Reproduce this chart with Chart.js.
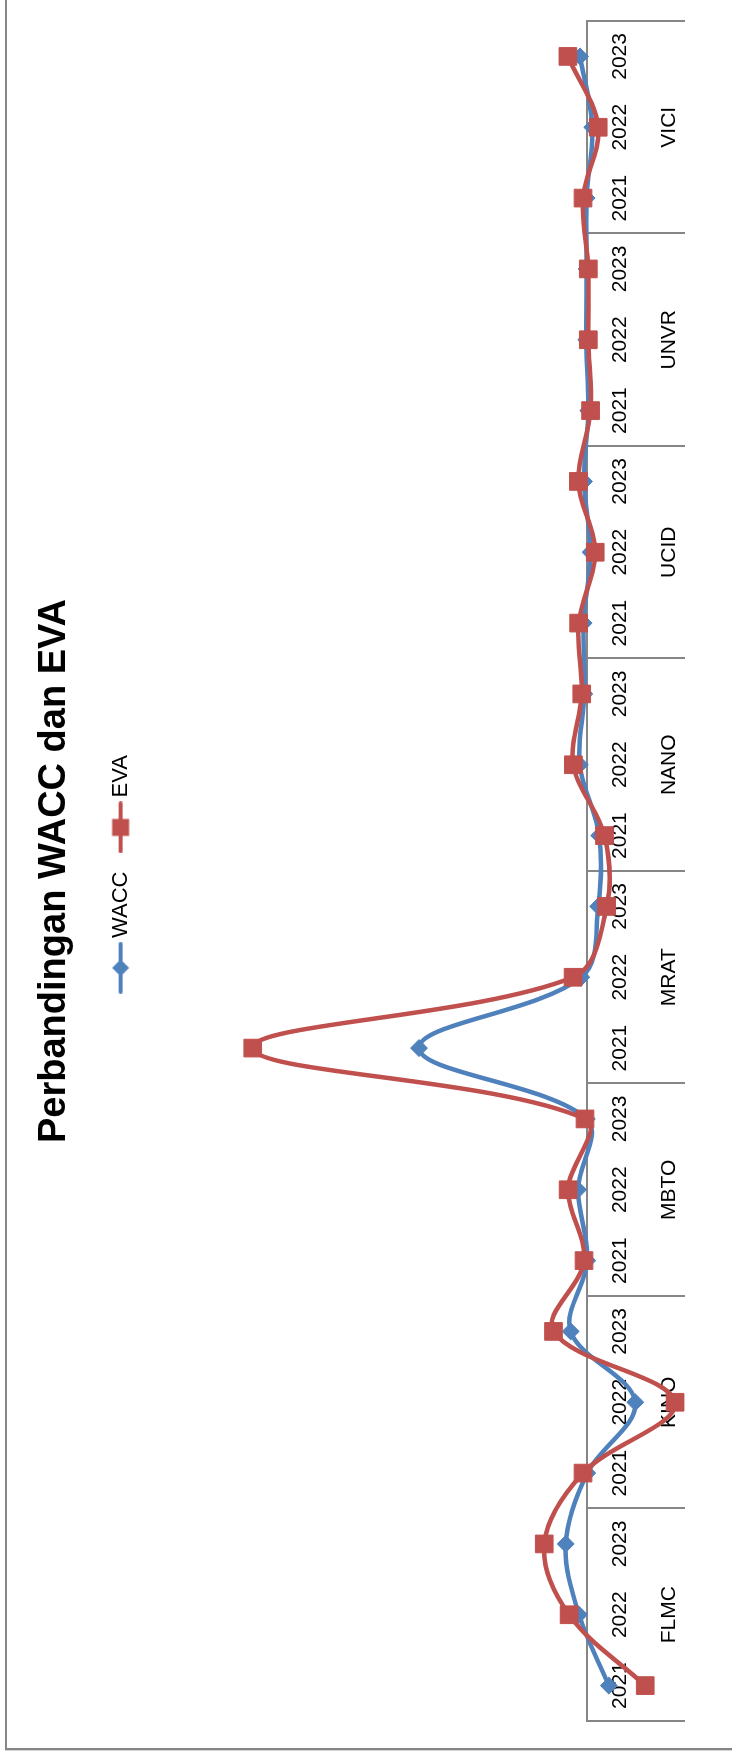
<!DOCTYPE html>
<html>
<head>
<meta charset="utf-8">
<title>Perbandingan WACC dan EVA</title>
<script src="https://cdn.jsdelivr.net/npm/chart.js@4.4.1/dist/chart.umd.min.js"></script>
<style>
  html, body { margin: 0; padding: 0; background: #fff; width: 732px; height: 1759px; overflow: hidden; }
  #frame {
    position: absolute; left: 5px; top: -10px; width: 800px; height: 1760px;
    box-sizing: border-box; border: 2px solid #868686; box-shadow: 0 1px 0 #d4d4d4;
  }
  /* the chart is laid out landscape and turned a quarter turn counter-clockwise */
  #wrap {
    position: absolute; left: 0; top: 0; width: 1759px; height: 732px;
    transform-origin: 0 0; transform: translate(0, 1759px) rotate(-90deg);
  }
  canvas { display: block; }
</style>
</head>
<body>
<div id="frame"></div>
<div id="wrap"><canvas id="chart" width="1759" height="732"></canvas></div>
<script>
// Companies and reporting years on the category axis
const companies = ['FLMC', 'KINO', 'MBTO', 'MRAT', 'NANO', 'UCID', 'UNVR', 'VICI'];
const years = ['2021', '2022', '2023'];

// WACC per company, 2021-2023
const waccFLMC = [-2.17, 0.83, 2.17];
const waccKINO = [0.0, -4.83, 1.67];
const waccMBTO = [0.0, 0.93, 0.05];
const waccMRAT = [16.93, 0.6, -1.1];
const waccNANO = [-1.2, 0.75, 0.3];
const waccUCID = [0.37, -0.33, 0.33];
const waccUNVR = [-0.1, 0.1, 0.07];
const waccVICI = [0.07, -0.5, 0.73];

// EVA per company, 2021-2023
const evaFLMC = [-5.83, 1.83, 4.33];
const evaKINO = [0.43, -8.83, 3.4];
const evaMBTO = [0.33, 1.93, 0.23];
const evaMRAT = [33.66, 1.43, -1.95];
const evaNANO = [-1.73, 1.4, 0.56];
const evaUCID = [0.87, -0.8, 0.9];
const evaUNVR = [-0.33, -0.1, -0.1];
const evaVICI = [0.43, -1.1, 1.95];

const waccValues = [].concat(waccFLMC, waccKINO, waccMBTO, waccMRAT, waccNANO, waccUCID, waccUNVR, waccVICI);
const evaValues = [].concat(evaFLMC, evaKINO, evaMBTO, evaMRAT, evaNANO, evaUCID, evaUNVR, evaVICI);

// Two-level labels: year on the first line, company name under the middle year
const labels = [];
companies.forEach(c => years.forEach((y, i) => labels.push([y, i === 1 ? c : ''])));

const BLUE = '#4F81BD';
const RED = '#C0504D';
const AXIS_GREY = '#868686';
const FONT = "'Liberation Sans', Arial, Helvetica, sans-serif";

// Legend swatch: short line with the series marker in the middle
function legendSwatch(color, marker) {
  const c = document.createElement('canvas');
  c.width = 52; c.height = 20;
  const g = c.getContext('2d');
  g.strokeStyle = color; g.lineWidth = 4; g.lineCap = 'round';
  g.beginPath(); g.moveTo(2, 10); g.lineTo(50, 10); g.stroke();
  g.fillStyle = color;
  if (marker === 'diamond') {
    g.beginPath(); g.moveTo(17.5, 10); g.lineTo(26, 1.5); g.lineTo(34.5, 10); g.lineTo(26, 18.5); g.closePath(); g.fill();
  } else {
    g.fillRect(17.5, 1.5, 17, 17);
  }
  return c;
}

Chart.defaults.color = '#000';
Chart.defaults.font.family = FONT;

const groupLine = (ctx) => (ctx.index === undefined || ctx.index % 3 === 0) ? AXIS_GREY : 'rgba(0,0,0,0)';

new Chart(document.getElementById('chart'), {
  type: 'line',
  data: {
    labels: labels,
    datasets: [
      {
        label: 'WACC', data: waccValues, order: 1,
        borderColor: BLUE, backgroundColor: BLUE, borderWidth: 4.5, tension: 0.35,
        pointStyle: 'rectRot', pointRadius: 8.5, pointBackgroundColor: BLUE, pointBorderColor: BLUE, pointBorderWidth: 1
      },
      {
        label: 'EVA', data: evaValues, order: 0,
        borderColor: RED, backgroundColor: RED, borderWidth: 4.5, tension: 0.35,
        pointStyle: 'rect', pointRadius: 12.5, pointBackgroundColor: RED, pointBorderColor: RED, pointBorderWidth: 1
      }
    ]
  },
  options: {
    responsive: false,
    animation: false,
    events: [],
    layout: { padding: { left: 38, right: 21, top: 0, bottom: 12 } },
    plugins: {
      tooltip: { enabled: false },
      title: {
        display: true, text: 'Perbandingan WACC dan EVA', fullSize: false,
        color: '#000', font: { family: FONT, size: 38, weight: 'bold', lineHeight: 1.2 },
        padding: { top: 32, bottom: 7 }
      },
      legend: {
        display: true, position: 'top', align: 'center', fullSize: false,
        labels: {
          usePointStyle: true, pointStyleWidth: 38, padding: 25,
          font: { family: FONT, size: 22 }, color: '#000',
          generateLabels: () => [
            { text: 'WACC', pointStyle: legendSwatch(BLUE, 'diamond'), fillStyle: BLUE, strokeStyle: BLUE, lineWidth: 0, hidden: false, datasetIndex: 0, fontColor: '#000' },
            { text: 'EVA', pointStyle: legendSwatch(RED, 'square'), fillStyle: RED, strokeStyle: RED, lineWidth: 0, hidden: false, datasetIndex: 1, fontColor: '#000' }
          ]
        }
      }
    },
    scales: {
      x: {
        type: 'category',
        position: { y: 0 },
        offset: true,
        grid: {
          offset: true, drawOnChartArea: false, drawTicks: true, tickLength: 97,
          color: groupLine, tickColor: groupLine, lineWidth: 2, tickWidth: 2
        },
        border: { display: true, color: AXIS_GREY, width: 2 },
        ticks: {
          autoSkip: false, maxRotation: 0, minRotation: 0, padding: -88.25,
          color: '#000', font: { family: FONT, size: 21, lineHeight: 2.31 }
        }
      },
      y: {
        display: false,
        min: -13.2,
        max: 44.84
      }
    }
  }
});
</script>
</body>
</html>
